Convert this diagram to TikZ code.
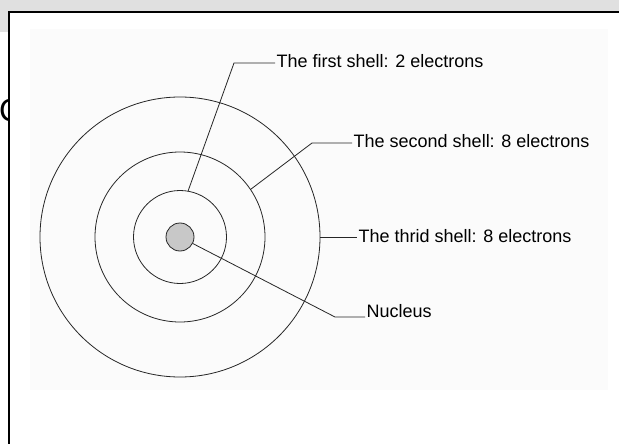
\documentclass[tikz,border=0pt]{standalone}
\usepackage{fontspec}
\setmainfont{Liberation Sans}
\usetikzlibrary{positioning}
\definecolor{bandgray}{HTML}{E0E0E0}
\definecolor{panelgray}{HTML}{FBFBFB}
\definecolor{coregray}{HTML}{C8C8C8}
\newcommand{\shellfont}{\fontsize{18}{20}\selectfont}

\begin{document}
\begin{tikzpicture}[x=1pt, y=-1pt,
    shell/.style={draw=black!85, circle, inner sep=0pt, line width=0.8pt},
    shelltext/.style={anchor=west, inner sep=1.5pt, font=\shellfont},
    leader/.style={draw=black!85, line width=0.8pt}
  ]
  \useasboundingbox (0,0) rectangle (619,444);

  % window around the picture
  \fill[bandgray] (0,0) rectangle (619,12);
  \fill[bandgray] (0,0) rectangle (8,32);
  \fill[panelgray] (30,29) rectangle (608,390);
  \begin{scope}
    \clip (0,32) rectangle (8,444);
    \node[anchor=west, inner sep=0pt, font=\fontsize{32}{34}\selectfont] (cut) at (-1,110) {C};
  \end{scope}
  \draw[line width=1.8pt] (8.7,444) -- (8.7,12.2) -- (619,12.2);

  % shells and nucleus
  \node[shell, minimum size=280pt] (shellthree) at (180,237) {};
  \node[shell, minimum size=170pt] (shelltwo) at (180,237) {};
  \node[shell, minimum size=93pt] (shellone) at (180,237) {};
  \node[shell, fill=coregray, minimum size=28pt] (nucleus) at (180,237) {};

  % labels
  \node[shelltext] (firsttext) at (275,61) {The first shell: 2 electrons};
  \node[shelltext] (secondtext) at (352,141.5) {The second shell: 8 electrons};
  \node[shelltext] (thirdtext) at (357,236.5) {The thrid shell: 8 electrons};
  \node[shelltext] (nucleustext) at (365,311.5) {Nucleus};

  \coordinate (b1) at (234,63);
  \coordinate (b2) at (312,143);
  \coordinate (b3) at (shellthree.east);
  \coordinate (b4) at (335,317);

  \draw[leader] (shellone.80) -- (b1) -- (b1 -| firsttext.west);
  \draw[leader] (shelltwo.34) -- (b2) -- (b2 -| secondtext.west);
  \draw[leader] (b3) -- (b3 -| thirdtext.west);
  \draw[leader] (nucleus.-27) -- (b4) -- (b4 -| nucleustext.west);
\end{tikzpicture}
\end{document}
